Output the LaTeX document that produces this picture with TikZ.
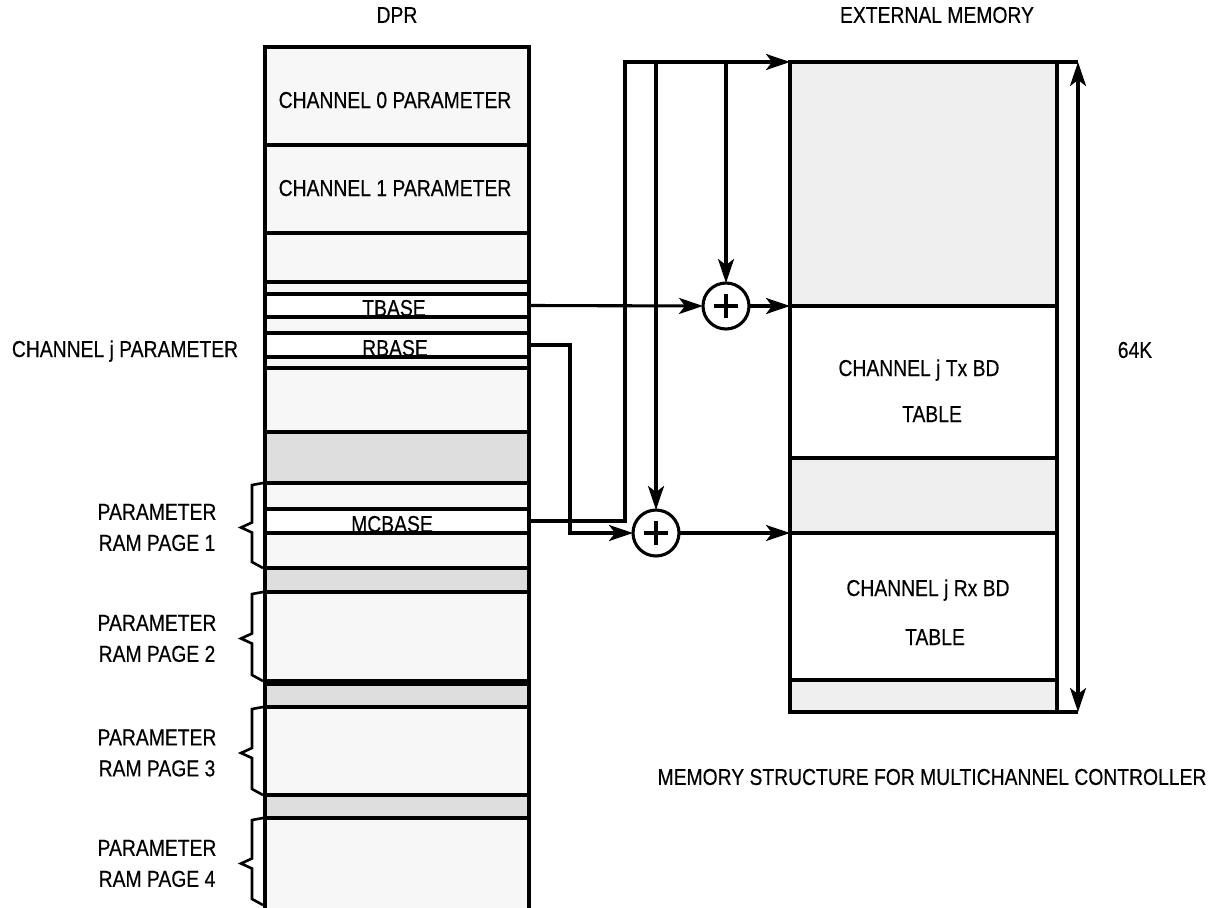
\documentclass[tikz,border=0pt]{standalone}
\usepackage{xcolor}
\usepackage{fontspec}
\setmainfont{Liberation Sans}[FakeStretch=0.84, FakeBold=0.4]
\usepackage{tikz}
\usetikzlibrary{arrows.meta}

\definecolor{dprlight}{HTML}{F7F7F7}
\definecolor{dprgray}{HTML}{DEDEDE}
\definecolor{memgray}{HTML}{EFEFEF}

\begin{document}
\begin{tikzpicture}[x=1pt, y=-1pt,
    memtip/.tip={Stealth[length=24pt, width=16pt, inset=6pt]},
    slabline/.style={draw=black, line width=3.2pt},
    slab/.style={draw=black, fill=white, line width=3.2pt, inner sep=0pt, outer sep=0pt,
      minimum width=264pt, anchor=north west},
    memslab/.style={draw=black, line width=3.2pt, inner sep=0pt, outer sep=0pt,
      minimum width=267pt, anchor=north west},
    lbl/.style={font=\fontsize{23}{31}\selectfont, inner sep=0pt},
    wire/.style={line width=3.1pt, -memtip},
    adder/.style={circle, draw=black, fill=white, line width=3.1pt, minimum size=46pt,
      inner sep=0pt, outer sep=0pt},
    bracket/.style={line width=2.6pt, line join=miter}]
  \useasboundingbox (0,0) rectangle (1230,907);

  % dual port ram
  \node[lbl] (dprT) at (397,15) {DPR};
  \foreach \ya/\yb/\col in {47/145/dprlight, 145/233/dprlight, 233/282/dprlight, 282/294/dprlight,
      317/333/dprlight, 357/368/dprlight, 368/432/dprlight, 432/483/dprgray, 483/509/dprlight,
      533/568/dprlight, 568/592/dprgray, 592/681/dprlight, 681/684/dprlight, 684/707/dprgray,
      707/795/dprlight, 795/818/dprgray, 818/915/dprlight}
    \draw[slabline, fill=\col] (265,\ya) rectangle (529,\yb);
  \node[slab, minimum height=23pt] (tbase) at (265,294) {};
  \node[slab, minimum height=24pt] (rbase) at (265,333) {};
  \node[slab, minimum height=24pt] (mcbase) at (265,509) {};

  \node[lbl, anchor=base] (ch0) at (395,108) {CHANNEL 0 PARAMETER};
  \node[lbl, anchor=base] (ch1) at (395,196) {CHANNEL 1 PARAMETER};
  \node[lbl, anchor=base] (tbL) at (394,316) {TBASE};
  \node[lbl, anchor=base] (rbL) at (395,356) {RBASE};
  \node[lbl, anchor=base] (mcL) at (392,532) {MCBASE};
  \node[lbl, anchor=base] (chj) at (125,357) {CHANNEL j PARAMETER};

  \foreach \ya/\yb/\n in {483/568/1, 592/681/2, 707/795/3, 818/905/4} {
    \pgfmathsetmacro\ym{(\ya+\yb)/2+2}
    \draw[bracket] (263,\ya) -- (252,\ya+2) -- (252,\ym-5) -- (241,\ym) -- (252,\ym+5)
      -- (252,\yb-6) -- (263,\yb);
    \node[lbl, align=center] (page\n) at (157,\ym) {PARAMETER\\RAM PAGE \n};
  }

  % external memory
  \node[lbl] (emT) at (937,15) {EXTERNAL MEMORY};
  \node[memslab, fill=memgray, minimum height=244pt] (emTop) at (790,62) {};
  \node[memslab, fill=white, minimum height=152pt] (txTab) at (790,306) {};
  \node[memslab, fill=memgray, minimum height=75pt] (emMid) at (790,458) {};
  \node[memslab, fill=white, minimum height=147pt] (rxTab) at (790,533) {};
  \node[memslab, fill=memgray, minimum height=32pt] (emBot) at (790,680) {};
  \node[lbl, anchor=base] (txL) at (919,376) {CHANNEL j Tx BD};
  \node[lbl, anchor=base] (txT) at (932,422) {TABLE};
  \node[lbl, anchor=base] (rxL) at (928,596) {CHANNEL j Rx BD};
  \node[lbl, anchor=base] (rxT) at (935,645) {TABLE};

  \coordinate (kTop) at (1078,62);
  \coordinate (kBot) at (1078,712);
  \draw[line width=3.1pt] (emTop.north east) -- (kTop);
  \draw[line width=3.1pt] (emBot.south east) -- (kBot);
  \draw[line width=3.1pt, memtip-memtip] (kTop) -- (kBot);
  \node[lbl] (size) at (1135,350) {64K};

  \node[lbl] (cap) at (932,777) {MEMORY STRUCTURE FOR MULTICHANNEL CONTROLLER};

  % adders and connectors
  \node[adder] (addT) at (726,306) {};
  \node[adder] (addR) at (656,533) {};
  \foreach \a in {addT, addR}
    \draw[line width=3.1pt] (\a.center) +(-12,0) -- +(12,0) (\a.center) +(0,-12) -- +(0,12);

  \coordinate (busTop) at (625,62);
  \draw[wire] (mcbase.east) -| (busTop) -- (emTop.north west);
  \draw[wire] (addR |- busTop) -- (addR.north);
  \draw[wire] (addT |- busTop) -- (addT.north);
  \draw[wire] (tbase.east) -- (addT.west);
  \draw[wire] (addT.east) -- (emTop.south west);
  \draw[wire] (rbase.east) -- ++(41,0) |- (addR.west);
  \draw[wire] (addR.east) -- (rxTab.north west);
\end{tikzpicture}
\end{document}
